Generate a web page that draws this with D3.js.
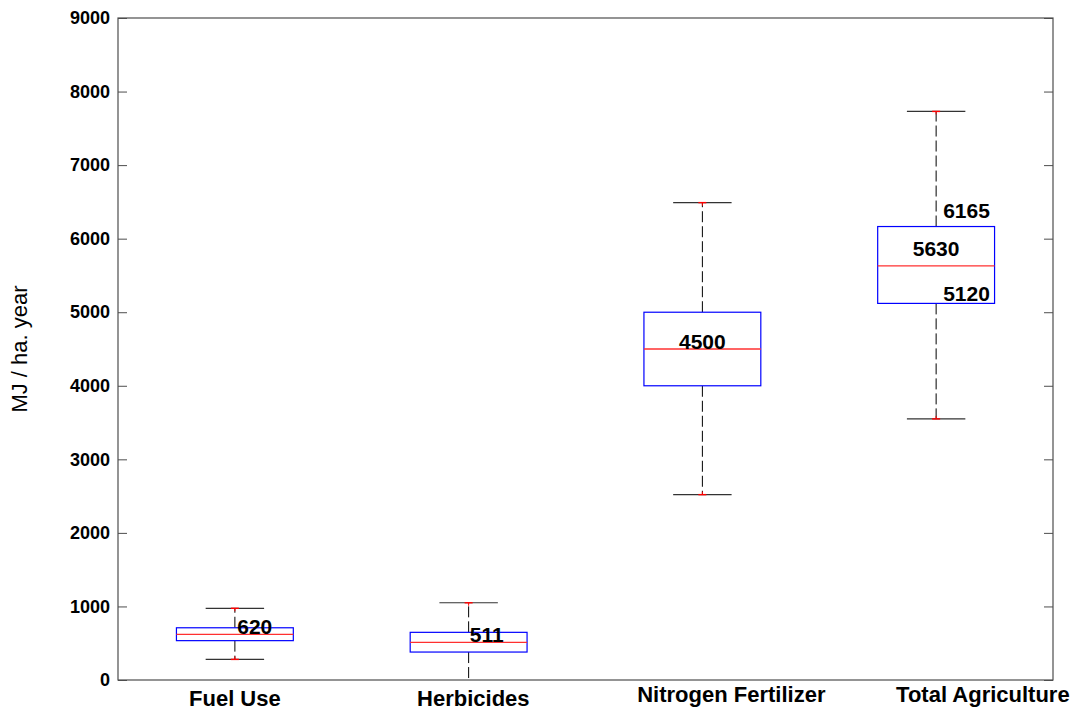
<!DOCTYPE html>
<html>
<head>
<meta charset="utf-8">
<script src="https://cdn.jsdelivr.net/npm/d3@7"></script>
<style>
  body { margin: 0; background: #fff; }
  svg text { font-family: "Liberation Sans", Arial, sans-serif; }
</style>
</head>
<body>
<svg id="chart" width="1081" height="720"></svg>
<script>
// box statistics (MJ / ha. year)
const categories = ["Fuel Use", "Herbicides", "Nitrogen Fertilizer", "Total Agriculture"];
const whiskerLow = [280, 0, 2520, 3550];
const q1 = [535, 380, 4000, 5120];
const medians = [620, 511, 4500, 5630];
const q3 = [710, 648, 5000, 6165];
const whiskerHigh = [975, 1050, 6490, 7730];

// category label anchors (in category units) and text annotations
const labelPos = [1.0, 2.02, 3.124, 4.2];
const annotText = ["620", "511", "4500", "5630", "6165", "5120"];
const annotX = [1.01, 2.005, 3, 4, 4.03, 4.03];
const annotY = [620, 511, 4500, 5760, 6280, 5150];
const annotAnchor = ["start", "start", "middle", "middle", "start", "start"];

const yTicks = d3.range(0, 9001, 1000);

const svg = d3.select("#chart");
const plotL = 118, plotR = 1053, plotT = 18, plotB = 680;

const x = d3.scaleLinear().domain([0.5, 4.5]).range([plotL, plotR]);
const y = d3.scaleLinear().domain([0, 9000]).range([plotB, plotT]);
const boxW = x(1.25) - x(1);     // half box width
const capW = x(1.125) - x(1);    // half cap width

// frame
svg.append("rect")
  .attr("x", plotL).attr("y", plotT)
  .attr("width", plotR - plotL).attr("height", plotB - plotT)
  .attr("fill", "none").attr("stroke", "#4d4d4d").attr("stroke-width", 1.2);

// y axis, ticks pointing inward
const yAxis = svg.append("g")
  .attr("transform", `translate(${plotL},0)`)
  .call(d3.axisLeft(y).tickValues(yTicks).tickFormat(d3.format("d"))
    .tickSizeInner(-9).tickSizeOuter(0).tickPadding(8));
yAxis.select(".domain").remove();
yAxis.selectAll("line").attr("stroke", "#4d4d4d");
yAxis.selectAll("text")
  .attr("font-size", 18).attr("font-weight", "bold").attr("fill", "#000")
  .attr("font-family", "Liberation Sans, Arial, sans-serif");

const yRight = svg.append("g")
  .attr("transform", `translate(${plotR},0)`)
  .call(d3.axisRight(y).tickValues(yTicks).tickSizeInner(-9).tickSizeOuter(0).tickFormat(""));
yRight.select(".domain").remove();
yRight.selectAll("line").attr("stroke", "#4d4d4d");

// y label
svg.append("text")
  .attr("transform", `translate(27,${(plotT + plotB) / 2}) rotate(-90)`)
  .attr("text-anchor", "middle")
  .attr("font-size", 22)
  .text("MJ / ha. year");

// boxes
const boxes = categories.map((c, i) => ({
  i: i + 1, lo: whiskerLow[i], q1: q1[i], med: medians[i], q3: q3[i], hi: whiskerHigh[i]
}));

const g = svg.append("g");
const b = g.selectAll("g.box").data(boxes).enter().append("g").attr("class", "box");

// whiskers
b.append("line")
  .attr("x1", d => x(d.i)).attr("x2", d => x(d.i))
  .attr("y1", d => y(d.q3)).attr("y2", d => y(d.hi))
  .attr("stroke", "#000").attr("stroke-dasharray", "11,4");
b.append("line")
  .attr("x1", d => x(d.i)).attr("x2", d => x(d.i))
  .attr("y1", d => y(d.q1)).attr("y2", d => y(d.lo))
  .attr("stroke", "#000").attr("stroke-dasharray", "11,4");

// caps (the ones sitting on the axis are hidden by it)
["hi", "lo"].forEach(k => {
  const c = b.filter(d => d[k] > 0);
  c.append("line")
    .attr("x1", d => x(d.i) - capW).attr("x2", d => x(d.i) + capW)
    .attr("y1", d => y(d[k])).attr("y2", d => y(d[k]))
    .attr("stroke", "#333").attr("stroke-width", 1.2);
  c.append("line")
    .attr("x1", d => x(d.i) - 4).attr("x2", d => x(d.i) + 4)
    .attr("y1", d => y(d[k])).attr("y2", d => y(d[k]))
    .attr("stroke", "#f00").attr("stroke-width", 1.4);
  c.append("line")
    .attr("x1", d => x(d.i)).attr("x2", d => x(d.i))
    .attr("y1", d => y(d[k])).attr("y2", d => y(d[k]) + (k === "hi" ? 3 : -3))
    .attr("stroke", "#f00").attr("stroke-width", 1);
});

b.append("rect")
  .attr("x", d => x(d.i) - boxW).attr("width", 2 * boxW)
  .attr("y", d => y(d.q3)).attr("height", d => y(d.q1) - y(d.q3))
  .attr("fill", "#fff").attr("stroke", "#0000ff").attr("stroke-width", 1.2);

b.append("line")
  .attr("x1", d => x(d.i) - boxW).attr("x2", d => x(d.i) + boxW)
  .attr("y1", d => y(d.med)).attr("y2", d => y(d.med))
  .attr("stroke", "#ff3030").attr("stroke-width", 1.4);

// annotations
svg.selectAll("text.annot").data(annotText).enter().append("text")
  .attr("class", "annot")
  .attr("x", (d, i) => x(annotX[i]))
  .attr("y", (d, i) => y(annotY[i]))
  .attr("text-anchor", (d, i) => annotAnchor[i])
  .attr("font-size", 21).attr("font-weight", "bold")
  .text(d => d);

// category labels
svg.selectAll("text.cat").data(categories).enter().append("text")
  .attr("class", "cat")
  .attr("x", (d, i) => x(labelPos[i]))
  .attr("y", (d, i) => i < 2 ? 706 : 702)
  .attr("text-anchor", "middle")
  .attr("font-size", 22).attr("font-weight", "bold")
  .text(d => d);
</script>
</body>
</html>
